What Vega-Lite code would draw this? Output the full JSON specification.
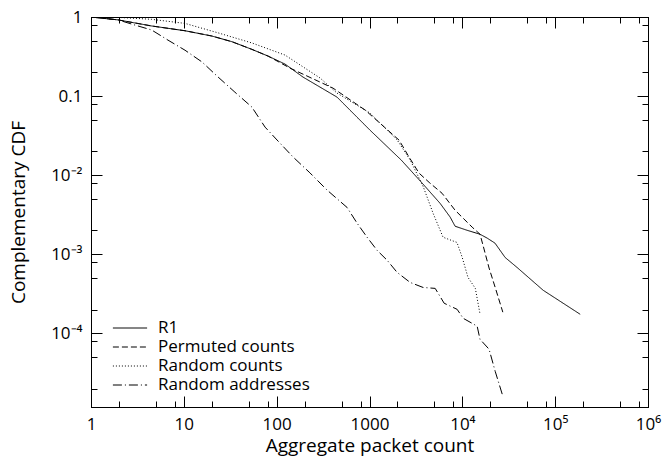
{
  "$schema": "https://vega.github.io/schema/vega-lite/v6.json",
  "width": 557,
  "height": 390,
  "autosize": {"type": "none"},
  "padding": {"left": 91, "top": 17, "right": 17, "bottom": 55},
  "background": "white",
  "config": {
    "font": "Open Sans",
    "view": {"stroke": "black", "strokeWidth": 1},
    "axis": {"zindex": 1, "domainColor": "black", "tickColor": "black", "labelColor": "black", "titleColor": "black", "labelFont": "Open Sans", "titleFont": "Open Sans", "labelFontSize": 17, "titleFontSize": 19, "titleFontWeight": "normal", "labelOverlap": false, "labelFlush": false},
    "legend": {"labelFont": "Open Sans", "labelFontSize": 17, "labelColor": "black"}
  },
  "data": {"values": [
    {"series": "R1", "x": 1, "y": 1},
    {"series": "R1", "x": 1.95, "y": 0.92},
    {"series": "R1", "x": 4.5, "y": 0.77},
    {"series": "R1", "x": 10.3, "y": 0.67},
    {"series": "R1", "x": 20, "y": 0.575},
    {"series": "R1", "x": 33, "y": 0.487},
    {"series": "R1", "x": 54, "y": 0.39},
    {"series": "R1", "x": 81, "y": 0.32},
    {"series": "R1", "x": 123, "y": 0.254},
    {"series": "R1", "x": 192, "y": 0.174},
    {"series": "R1", "x": 447, "y": 0.097},
    {"series": "R1", "x": 1014, "y": 0.037},
    {"series": "R1", "x": 2200, "y": 0.0155},
    {"series": "R1", "x": 3600, "y": 0.0082},
    {"series": "R1", "x": 5760, "y": 0.0044},
    {"series": "R1", "x": 7390, "y": 0.00295},
    {"series": "R1", "x": 8360, "y": 0.00226},
    {"series": "R1", "x": 11230, "y": 0.00201},
    {"series": "R1", "x": 15500, "y": 0.00179},
    {"series": "R1", "x": 18500, "y": 0.0016},
    {"series": "R1", "x": 22500, "y": 0.00138},
    {"series": "R1", "x": 28900, "y": 0.00091},
    {"series": "R1", "x": 38900, "y": 0.00068},
    {"series": "R1", "x": 74300, "y": 0.00035},
    {"series": "R1", "x": 186000, "y": 0.000174},
    {"series": "Permuted counts", "x": 1, "y": 1},
    {"series": "Permuted counts", "x": 1.95, "y": 0.92},
    {"series": "Permuted counts", "x": 4.5, "y": 0.77},
    {"series": "Permuted counts", "x": 10.3, "y": 0.67},
    {"series": "Permuted counts", "x": 20, "y": 0.575},
    {"series": "Permuted counts", "x": 33, "y": 0.487},
    {"series": "Permuted counts", "x": 54, "y": 0.39},
    {"series": "Permuted counts", "x": 81, "y": 0.32},
    {"series": "Permuted counts", "x": 139, "y": 0.226},
    {"series": "Permuted counts", "x": 405, "y": 0.126},
    {"series": "Permuted counts", "x": 898, "y": 0.0665},
    {"series": "Permuted counts", "x": 2084, "y": 0.0277},
    {"series": "Permuted counts", "x": 2670, "y": 0.0169},
    {"series": "Permuted counts", "x": 3420, "y": 0.0106},
    {"series": "Permuted counts", "x": 4390, "y": 0.0081},
    {"series": "Permuted counts", "x": 6050, "y": 0.0059},
    {"series": "Permuted counts", "x": 8360, "y": 0.0036},
    {"series": "Permuted counts", "x": 12760, "y": 0.0022},
    {"series": "Permuted counts", "x": 15500, "y": 0.00179},
    {"series": "Permuted counts", "x": 16700, "y": 0.0013},
    {"series": "Permuted counts", "x": 19400, "y": 0.00067},
    {"series": "Permuted counts", "x": 22600, "y": 0.00038},
    {"series": "Permuted counts", "x": 27300, "y": 0.000185},
    {"series": "Random counts", "x": 1, "y": 1},
    {"series": "Random counts", "x": 1.95, "y": 0.99},
    {"series": "Random counts", "x": 4.5, "y": 0.935},
    {"series": "Random counts", "x": 10.3, "y": 0.83},
    {"series": "Random counts", "x": 23.4, "y": 0.63},
    {"series": "Random counts", "x": 54, "y": 0.47},
    {"series": "Random counts", "x": 123, "y": 0.33},
    {"series": "Random counts", "x": 294, "y": 0.169},
    {"series": "Random counts", "x": 447, "y": 0.109},
    {"series": "Random counts", "x": 1014, "y": 0.061},
    {"series": "Random counts", "x": 1980, "y": 0.028},
    {"series": "Random counts", "x": 2750, "y": 0.0155},
    {"series": "Random counts", "x": 3800, "y": 0.0071},
    {"series": "Random counts", "x": 4840, "y": 0.0033},
    {"series": "Random counts", "x": 6200, "y": 0.00164},
    {"series": "Random counts", "x": 8750, "y": 0.00141},
    {"series": "Random counts", "x": 9950, "y": 0.00092},
    {"series": "Random counts", "x": 11500, "y": 0.00051},
    {"series": "Random counts", "x": 13800, "y": 0.00037},
    {"series": "Random counts", "x": 15500, "y": 0.000176},
    {"series": "Random addresses", "x": 1, "y": 1},
    {"series": "Random addresses", "x": 1.95, "y": 0.92},
    {"series": "Random addresses", "x": 2.98, "y": 0.79},
    {"series": "Random addresses", "x": 4.5, "y": 0.685},
    {"series": "Random addresses", "x": 6.75, "y": 0.51},
    {"series": "Random addresses", "x": 10.3, "y": 0.38},
    {"series": "Random addresses", "x": 15.7, "y": 0.27},
    {"series": "Random addresses", "x": 23.4, "y": 0.174},
    {"series": "Random addresses", "x": 35.5, "y": 0.112},
    {"series": "Random addresses", "x": 54, "y": 0.0727},
    {"series": "Random addresses", "x": 75, "y": 0.0405},
    {"series": "Random addresses", "x": 101, "y": 0.0278},
    {"series": "Random addresses", "x": 150, "y": 0.017},
    {"series": "Random addresses", "x": 228, "y": 0.0107},
    {"series": "Random addresses", "x": 348, "y": 0.0065},
    {"series": "Random addresses", "x": 574, "y": 0.0039},
    {"series": "Random addresses", "x": 735, "y": 0.00247},
    {"series": "Random addresses", "x": 942, "y": 0.00164},
    {"series": "Random addresses", "x": 1208, "y": 0.00112},
    {"series": "Random addresses", "x": 1548, "y": 0.00084},
    {"series": "Random addresses", "x": 1983, "y": 0.00059},
    {"series": "Random addresses", "x": 2740, "y": 0.00044},
    {"series": "Random addresses", "x": 3780, "y": 0.00038},
    {"series": "Random addresses", "x": 5100, "y": 0.00037},
    {"series": "Random addresses", "x": 6370, "y": 0.00024},
    {"series": "Random addresses", "x": 8790, "y": 0.000201},
    {"series": "Random addresses", "x": 10200, "y": 0.000155},
    {"series": "Random addresses", "x": 14450, "y": 0.000123},
    {"series": "Random addresses", "x": 15500, "y": 0.000084},
    {"series": "Random addresses", "x": 19400, "y": 0.000063},
    {"series": "Random addresses", "x": 22600, "y": 0.000033},
    {"series": "Random addresses", "x": 26900, "y": 0.000017}
  ]},
  "layer": [
    {
      "mark": {"type": "line", "color": "black", "strokeWidth": 1, "clip": true},
      "encoding": {
        "x": {"field": "x", "type": "quantitative",
          "scale": {"type": "log", "domain": [1, 1000000], "nice": false},
          "axis": {"orient": "bottom", "title": "Aggregate packet count", "titlePadding": 4, "zindex": 1,
            "values": [1,2,5,8,10,20,50,80,100,200,500,800,1000,2000,5000,8000,10000,20000,50000,80000,100000,200000,500000,800000,1000000],
            "tickSize": -6,
            "grid": true, "gridColor": "black", "gridOpacity": 1, "gridWidth": 1,
            "gridDash": {"condition": {"test": "datum.value == 1 || datum.value == 10 || datum.value == 100 || datum.value == 1000 || datum.value == 10000 || datum.value == 100000 || datum.value == 1000000", "value": [11, 368, 11, 1000]}, "value": [0, 1000]},
            "labelPadding": 15,
            "labelExpr": "datum.value==1?'1':datum.value==10?'10':datum.value==100?'100':datum.value==1000?'1000':datum.value==10000?'10⁴':datum.value==100000?'10⁵':datum.value==1000000?'10⁶':''"}},
        "y": {"field": "y", "type": "quantitative",
          "scale": {"type": "log", "domain": [0.0000117, 1], "nice": false},
          "axis": {"orient": "left", "title": "Complementary CDF", "titlePadding": 22, "zindex": 1,
            "values": [1,0.8,0.5,0.2,0.1,0.08,0.05,0.02,0.01,0.008,0.005,0.002,0.001,0.0008,0.0005,0.0002,0.0001,0.00008,0.00005,0.00002],
            "tickSize": -6,
            "grid": true, "gridColor": "black", "gridOpacity": 1, "gridWidth": 1,
            "gridDash": {"condition": {"test": "datum.value == 1 || datum.value == 0.1 || datum.value == 0.01 || datum.value == 0.001 || datum.value == 0.0001", "value": [11, 1000]}, "value": [0, 1000]},
            "labelPadding": 15,
            "labelExpr": "datum.value==1?'1':datum.value==0.1?'0.1':datum.value==0.01?'10⁻²':datum.value==0.001?'10⁻³':datum.value==0.0001?'10⁻⁴':''"}},
        "strokeDash": {"field": "series", "type": "nominal",
          "scale": {"domain": ["R1", "Permuted counts", "Random counts", "Random addresses"], "range": [[1,0], [6,3], [1,2], [9,3,1,3]]},
          "legend": {"title": null, "orient": "none", "legendX": 29, "legendY": 301, "padding": 0, "symbolType": "M-1.8,0H1.8", "symbolSize": 361, "symbolStrokeColor": "black", "symbolStrokeWidth": 1, "rowPadding": 1, "labelOffset": 18}}
      }
    },
    {
      "mark": {"type": "point", "opacity": 0},
      "encoding": {
        "x": {"field": "x", "type": "quantitative",
          "scale": {"type": "log", "domain": [1, 1000000], "nice": false},
          "axis": {"orient": "top", "title": null, "labels": false, "zindex": 1,
            "values": [1,2,5,8,10,20,50,80,100,200,500,800,1000,2000,5000,8000,10000,20000,50000,80000,100000,200000,500000,800000,1000000],
            "tickSize": -6}},
        "y": {"field": "y", "type": "quantitative",
          "scale": {"type": "log", "domain": [0.0000117, 1], "nice": false},
          "axis": {"orient": "right", "title": null, "labels": false, "zindex": 1,
            "values": [1,0.8,0.5,0.2,0.1,0.08,0.05,0.02,0.01,0.008,0.005,0.002,0.001,0.0008,0.0005,0.0002,0.0001,0.00008,0.00005,0.00002],
            "tickSize": -6,
            "grid": true, "gridColor": "black", "gridOpacity": 1, "gridWidth": 1,
            "gridDash": {"condition": {"test": "datum.value == 1 || datum.value == 0.1 || datum.value == 0.01 || datum.value == 0.001 || datum.value == 0.0001", "value": [11, 1000]}, "value": [0, 1000]}}}
      }
    }
  ],
  "resolve": {"axis": {"x": "independent", "y": "independent"}}
}
